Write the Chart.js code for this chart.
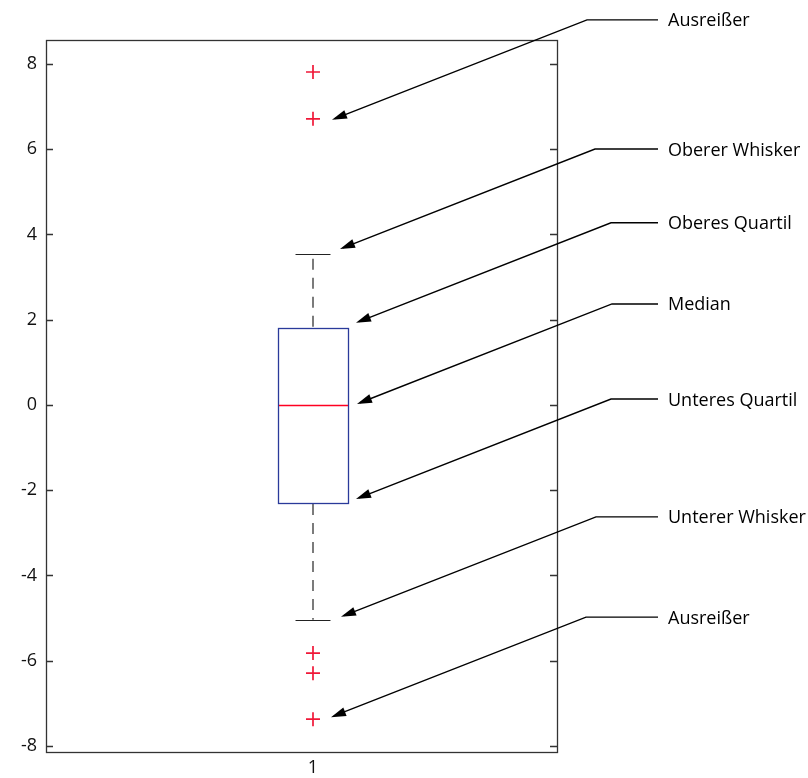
<!DOCTYPE html>
<html><head><meta charset="utf-8">
<script src="https://cdn.jsdelivr.net/npm/chart.js@4/dist/chart.umd.min.js"></script>
<style>html,body{margin:0;padding:0;background:#fff}#wrap{width:808px;height:778px;position:relative}</style>
</head><body><div id="wrap"><canvas id="c" width="808" height="778"></canvas></div>
<script>
// ---- data ----
const categories = ['1'];
const q1 = [-2.30];
const median = [0.0];
const q3 = [1.81];
const whiskerLow = [-5.04];
const whiskerHigh = [3.54];
const outlierValues = [7.81, 6.71, -5.82, -6.29, -7.37];
const yTicks = [-8, -6, -4, -2, 0, 2, 4, 6, 8];
const annotationLabels = ['Ausreißer', 'Oberer Whisker', 'Oberes Quartil', 'Median', 'Unteres Quartil', 'Unterer Whisker', 'Ausreißer'];
const annotationTargets = [6.71, 3.54, 1.81, 0.0, -2.30, -5.04, -7.37];

// ---- layout/style (not data) ----
const annotationDx = [19, 27, 43, 44, 43, 28, 18];
const annotationDy = [1, -5, -5, -1, -4, -3, -2];
const FONT = '"Open Sans", "Noto Sans", sans-serif';
const FONT_SIZE = 18;

const boxPlugin = {
  id: 'boxplot',
  beforeDatasetsDraw(chart) {
    const ctx = chart.ctx, xs = chart.scales.x, ys = chart.scales.y;
    categories.forEach((c, i) => {
      const cx = xs.getPixelForValue(i + 1);
      const halfBox = (xs.getPixelForValue(i + 1 + 0.0685) - cx);
      const halfCap = (xs.getPixelForValue(i + 1 + 0.0342) - cx);
      const yq1 = ys.getPixelForValue(q1[i]), yq3 = ys.getPixelForValue(q3[i]);
      const ym = ys.getPixelForValue(median[i]);
      const ywl = ys.getPixelForValue(whiskerLow[i]), ywh = ys.getPixelForValue(whiskerHigh[i]);
      ctx.save();
      // whiskers dashed
      ctx.strokeStyle = '#444';
      ctx.lineWidth = 1.4;
      ctx.setLineDash([11, 8]);
      ctx.beginPath();
      ctx.moveTo(Math.round(cx), yq3 - 1);
      ctx.lineTo(Math.round(cx), ywh + 4);
      ctx.moveTo(Math.round(cx), yq1 + 1);
      ctx.lineTo(Math.round(cx), ywl);
      ctx.stroke();
      ctx.setLineDash([]);
      // caps
      ctx.strokeStyle = '#222';
      ctx.lineWidth = 1.2;
      ctx.beginPath();
      ctx.moveTo(cx - halfCap, Math.round(ywh) + 0.5);
      ctx.lineTo(cx + halfCap, Math.round(ywh) + 0.5);
      ctx.moveTo(cx - halfCap, Math.round(ywl) + 0.5);
      ctx.lineTo(cx + halfCap, Math.round(ywl) + 0.5);
      ctx.stroke();
      // box
      ctx.strokeStyle = '#2a3a9a';
      ctx.lineWidth = 1.3;
      ctx.strokeRect(Math.round(cx - halfBox) + 0.5, Math.round(yq3) + 0.5, Math.round(2 * halfBox), Math.round(yq1 - yq3));
      // median
      ctx.strokeStyle = '#ff0022';
      ctx.lineWidth = 1.3;
      ctx.beginPath();
      ctx.moveTo(Math.round(cx - halfBox) + 1, Math.round(ym) + 0.5);
      ctx.lineTo(Math.round(cx + halfBox), Math.round(ym) + 0.5);
      ctx.stroke();
      ctx.restore();
    });
  },
  afterDraw(chart) {
    const ctx = chart.ctx, xs = chart.scales.x, ys = chart.scales.y;
    const a = chart.chartArea;
    ctx.save();
    // frame
    ctx.strokeStyle = '#333';
    ctx.lineWidth = 1.3;
    ctx.strokeRect(Math.round(a.left) + 0.5, Math.round(a.top) + 0.5, Math.round(a.right - a.left), Math.round(a.bottom - a.top));
    // inward ticks on left and right
    ctx.beginPath();
    yTicks.forEach(v => {
      const y = Math.round(ys.getPixelForValue(v)) + 0.5;
      ctx.moveTo(a.left, y); ctx.lineTo(a.left + 7, y);
      ctx.moveTo(a.right, y); ctx.lineTo(a.right - 7, y);
    });
    ctx.stroke();
    // annotations
    ctx.strokeStyle = '#000';
    ctx.fillStyle = '#000';
    ctx.lineWidth = 1.4;
    ctx.font = FONT_SIZE + 'px ' + FONT;
    ctx.textBaseline = 'alphabetic';
    ctx.textAlign = 'left';
    const cx = xs.getPixelForValue(1);
    annotationLabels.forEach((lab, i) => {
      const tx = cx + annotationDx[i];
      const ty = ys.getPixelForValue(annotationTargets[i]) + annotationDy[i];
      const ly = ty - 100;
      const ex = tx + 255;
      ctx.beginPath();
      ctx.moveTo(658, ly);
      ctx.lineTo(ex, ly);
      ctx.lineTo(tx + 3, ty - 1.2);
      ctx.stroke();
      // arrowhead
      const ang = Math.atan2(ty - ly, tx - ex);
      const L = 15, W = 4.5;
      const bx = tx - L * Math.cos(ang), by = ty - L * Math.sin(ang);
      ctx.beginPath();
      ctx.moveTo(tx, ty);
      ctx.lineTo(bx + W * Math.sin(ang), by - W * Math.cos(ang));
      ctx.lineTo(bx - W * Math.sin(ang), by + W * Math.cos(ang));
      ctx.closePath();
      ctx.fill();
      ctx.fillText(lab, 668, ly + 6.5);
    });
    ctx.restore();
  }
};

new Chart(document.getElementById('c'), {
  type: 'scatter',
  data: {
    datasets: [{
      label: 'Ausreißer',
      data: outlierValues.map(v => ({ x: 1, y: v })),
      pointStyle: 'cross',
      pointRadius: 7,
      pointHoverRadius: 7,
      borderColor: '#f01838',
      backgroundColor: '#f01838',
      borderWidth: 1.7
    }]
  },
  options: {
    responsive: false,
    animation: false,
    layout: { padding: { top: 40, right: 251, left: 0, bottom: 0 } },
    plugins: { legend: { display: false }, tooltip: { enabled: false } },
    scales: {
      x: {
        type: 'linear', min: 0.4775, max: 1.4775,
        afterBuildTicks: s => { s.ticks = categories.map((c, i) => ({ value: i + 1 })); },
        afterFit: s => { s.height = 26; },
        ticks: { callback: (v) => categories[v - 1] ?? '', color: '#111', font: { family: FONT, size: FONT_SIZE }, padding: 5, maxRotation: 0 },
        grid: { display: false, drawTicks: false },
        border: { display: false }
      },
      y: {
        type: 'linear', min: -8.14, max: 8.56,
        afterBuildTicks: s => { s.ticks = yTicks.map(v => ({ value: v })); },
        afterFit: s => { s.width = 46; },
        ticks: { color: '#111', font: { family: FONT, size: FONT_SIZE }, padding: 9 },
        grid: { display: false, drawTicks: false },
        border: { display: false }
      }
    }
  },
  plugins: [boxPlugin]
});
</script></body></html>
